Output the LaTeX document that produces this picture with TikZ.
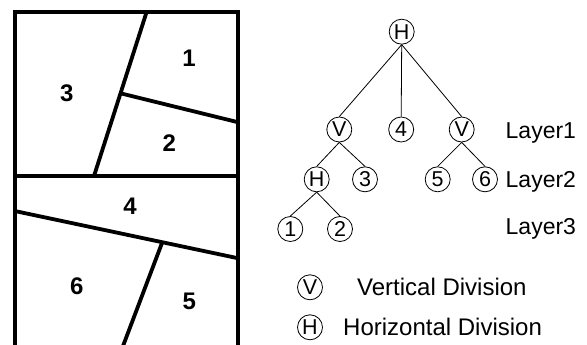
\documentclass[tikz,border=0pt]{standalone}
\usepackage{fontspec}
\setmainfont{Liberation Sans}
\begin{document}
\begin{tikzpicture}[x=1pt,y=-1pt,
  wall/.style={line width=3.8pt,line cap=butt},
  region/.style={font=\fontsize{24}{28}\selectfont\bfseries,inner sep=0pt},
  cnode/.style={circle,draw,line width=0.8pt,minimum size=25pt,inner sep=0pt,font=\fontsize{21.5}{24}\selectfont},
  edge/.style={line width=0.8pt},
  lbl/.style={font=\fontsize{23}{27}\selectfont,inner sep=0pt,anchor=base west},
  keytext/.style={font=\fontsize{24}{28}\selectfont,inner sep=0pt,anchor=base west}]
\useasboundingbox (0,0) rectangle (587,345);

% cut diagram: outer frame open at the bottom
\coordinate (bl) at (14.7,350);
\coordinate (tl) at (14.7,11.7);
\coordinate (tr) at (238.3,11.7);
\coordinate (br) at (238.3,350);
\draw[wall,line join=miter] (bl) -- (tl) -- (tr) -- (br);
\coordinate (ml) at (14.7,176);
\coordinate (mr) at (238.3,176);
\draw[wall] (ml) -- (mr);
% upper half
\coordinate (a1) at (146.7,11.7);
\coordinate (a2) at (94,176);
\draw[wall] (a1) -- (a2);
\coordinate (b1) at (120.5,93.3);
\coordinate (b2) at (238.3,122.3);
\draw[wall] (b1) -- (b2);
% lower half
\coordinate (c1) at (14.7,211);
\coordinate (c2) at (238.3,258.3);
\draw[wall] (c1) -- (c2);
\coordinate (d1) at (162.3,242.2);
\coordinate (d2) at (121.5,350);
\draw[wall] (d1) -- (d2);

\node[region] (r1) at (189,58) {1};
\node[region] (r2) at (169.3,142.7) {2};
\node[region] (r3) at (66.7,93.3) {3};
\node[region] (r4) at (130,206.7) {4};
\node[region] (r5) at (189.3,301.7) {5};
\node[region] (r6) at (76.7,286.7) {6};

% division tree
\node[cnode] (root) at (401.7,31.7) {H};
\node[cnode] (v1) at (339.3,129.5) {V};
\node[cnode] (n4) at (401.2,129.5) {4};
\node[cnode] (v2) at (461.7,129.5) {V};
\node[cnode] (h1) at (316.7,179.3) {H};
\node[cnode] (n3) at (365,179.3) {3};
\node[cnode] (n5) at (437.7,179.3) {5};
\node[cnode] (n6) at (485,179.3) {6};
\node[cnode] (n1) at (290.3,229) {1};
\node[cnode] (n2) at (340,229) {2};

\draw[edge] (root.south) -- (v1.north);
\draw[edge] (root.south) -- (n4.north);
\draw[edge] (root.south) -- (v2.north);
\draw[edge] (v1.south) -- (h1.north);
\draw[edge] (v1.south) -- (n3.north);
\draw[edge] (v2.south) -- (n5.north);
\draw[edge] (v2.south) -- (n6.north);
\draw[edge] (h1.south) -- (n1.north);
\draw[edge] (h1.south) -- (n2.north);

\node[lbl] (l1) at (505.5,138.5) {Layer1};
\node[lbl] (l2) at (505.5,187) {Layer2};
\node[lbl] (l3) at (505.5,234) {Layer3};

% legend
\node[cnode] (kv) at (310,287.3) {V};
\node[keytext] (tv) at (357,295.7) {Vertical Division};
\node[cnode] (kh) at (310,327.3) {H};
\node[keytext] (th) at (343,335.5) {Horizontal Division};
\end{tikzpicture}
\end{document}
